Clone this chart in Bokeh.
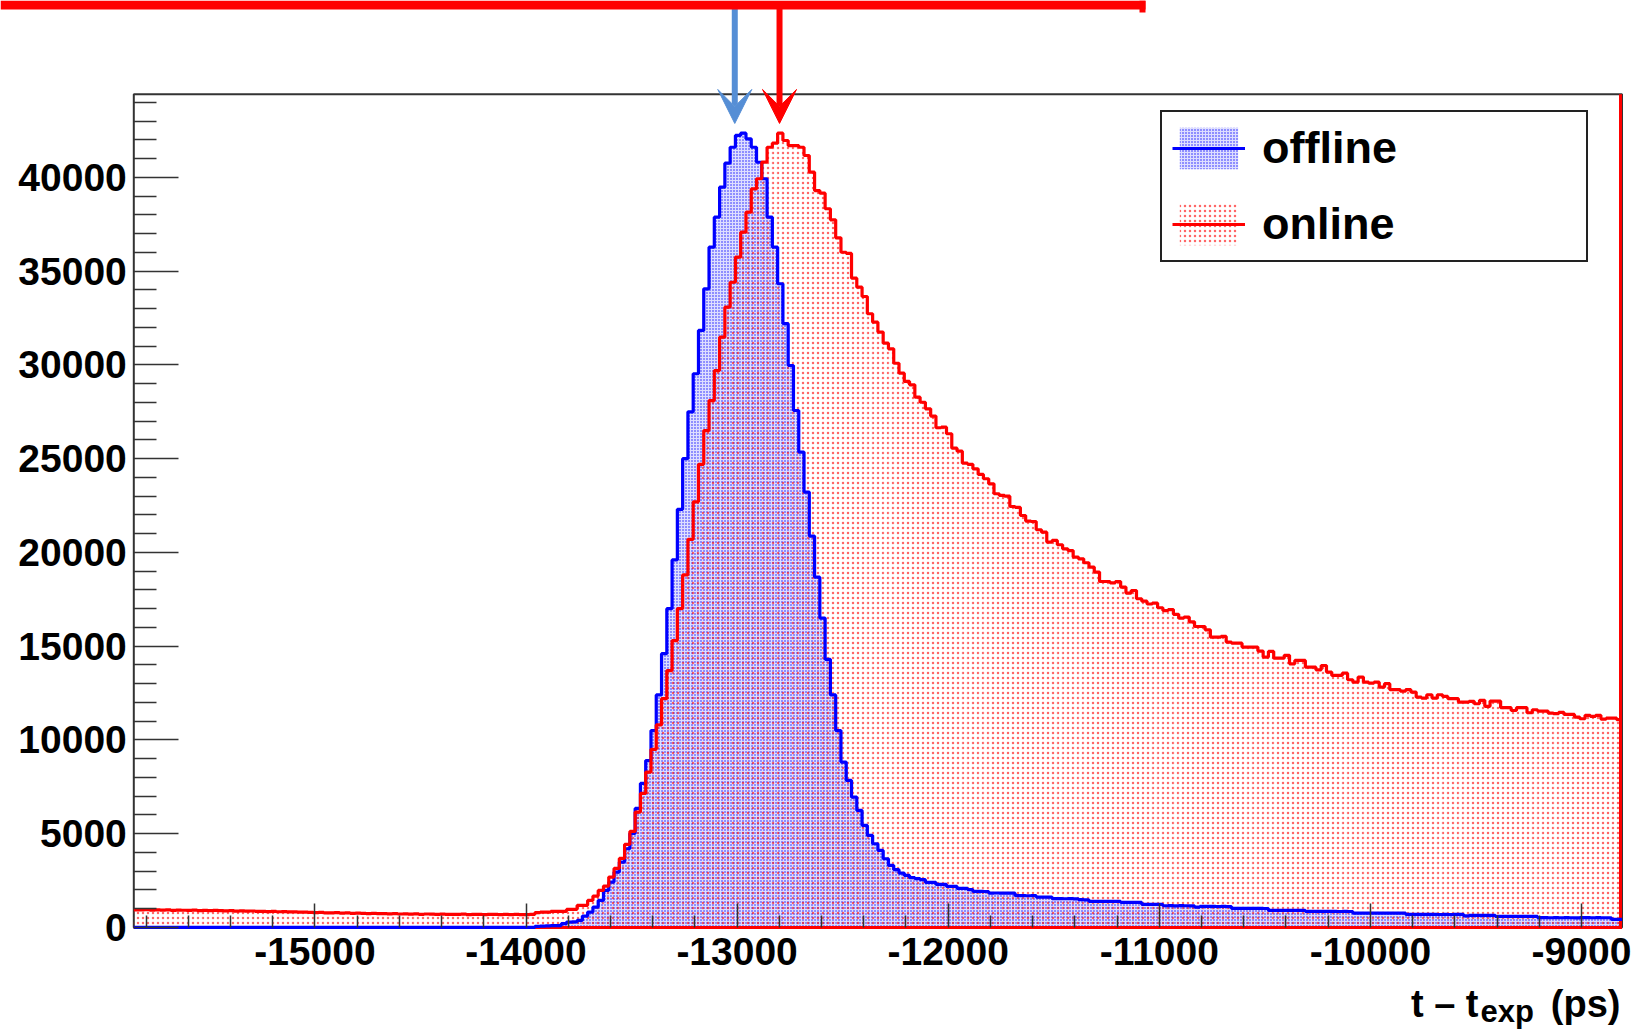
import numpy as np
from bokeh.plotting import figure
from bokeh.models import (Range1d, FixedTicker, ColumnDataSource, Legend, LegendItem,
                          Arrow, VeeHead, BoxAnnotation, Label)
from bokeh.embed import file_html
from bokeh.resources import INLINE

# ----------------------------------------------------------------- data
X_START = -15858          # left edge of first bin (ps)
BIN_WIDTH = 25            # ps

# "online" histogram, counts per 25 ps bin
online = [
    940, 930, 945, 925, 935, 920, 930, 910, 925, 915, 905, 920, 900, 910, 895, 905, 890,
    880, 895, 870, 880, 865, 875, 850, 860, 845, 850, 835, 840, 825, 830, 815, 820, 800,
    790, 800, 780, 770, 785, 760, 770, 750, 760, 745, 735, 750, 730, 740, 720, 735, 715,
    725, 710, 720, 700, 715, 705, 690, 710, 695, 700, 690, 705, 685, 700, 690, 680, 695,
    690, 680, 695, 685, 690, 680, 685, 690,
    784, 810, 817, 853, 850, 860, 960, 965, 1173, 1180, 1440, 1671, 1973, 2204, 2684,
    3147, 3680, 4427, 5120, 6150, 7147, 8284,
    9500, 10800, 12200, 13700, 15300, 17000, 18800, 20700, 22700, 24700, 26500, 28100,
    29700, 31480, 33080, 34410, 35750, 37080, 38150, 39390, 39930, 40820, 41610, 41830,
    42360, 41970, 41700, 41700, 41610,
    41170, 40280, 39300, 39160, 38330, 37740, 36780, 36010, 35950, 34630,
    34150, 33650, 32730, 32280, 31750, 31160, 30860, 30090, 29560, 29120,
    28940, 28280, 28010, 27660, 27270, 26650, 26680, 26330, 25560, 25400,
    24760, 24700, 24460, 24160, 23930, 23660, 23130, 23040, 23000, 22450,
    22400, 21970, 21670, 21650, 21210, 21080, 20550, 20640, 20410, 20190,
    20100, 19750, 19660, 19450, 19220, 18950, 18450, 18450, 18380, 18450,
    18150, 17830, 17970, 17530,
    17400, 17250, 17300, 17050, 16900, 16950, 16700, 16500, 16550, 16300,
    16050, 16050, 15870, 15480, 15480, 15520, 15220, 15160, 15160, 14950,
    14950, 14950, 14740, 14420, 14720, 14360, 14360, 14510, 14060, 14240,
    14240, 13880, 13880, 13740, 13970, 13620, 13440, 13440, 13560, 13210,
    13080, 13350, 13080, 13030, 13080, 12820, 13000, 12680, 12680, 12600,
    12680, 12550, 12280, 12230, 12410, 12230, 12410, 12320, 12200, 12200,
    12020, 12020, 12060, 11930, 12110, 11790, 12070, 12070, 11720, 11720,
    11570, 11720, 11720, 11450, 11610, 11540, 11540, 11430, 11400, 11470,
    11360, 11360, 11220, 11130, 11310, 11260, 11310, 11110, 11160, 11160,
    11080,
]

# "offline" histogram, counts per 25 ps bin
offline = [
    0, 0, 0, 0, 0, 0, 0, 0, 0, 0, 0, 0, 0, 0, 0, 0, 0, 0, 0,
    0, 0, 0, 0, 0, 0, 0, 0, 0, 0, 0, 0, 0, 0, 0, 0, 0, 0, 0,
    0, 0, 0, 0, 0, 0, 0, 0, 0, 0, 0, 0, 0, 0, 0, 0, 0, 0, 0,
    0, 0, 0, 0, 0, 0, 0, 0, 0, 0, 0, 0, 0, 0, 0, 0, 0, 0, 0,
    60, 70, 80, 90, 100, 200, 284, 290, 373, 604, 817, 1084, 1440, 1973, 2418, 2951,
    3484, 4195, 5013, 6347, 7680, 8900,
    10500, 12400, 14600, 17000, 19600, 22300, 25000, 27500,
    29530, 31840, 34060, 36280, 37880, 39480, 40760, 41610, 42240, 42360,
    42060, 41610, 40810, 39930, 37880, 36280, 34330, 32200, 29970, 27570,
    25350, 23220, 20870, 18680, 16500, 14300, 12400, 10500, 8816, 7840,
    6950, 6240, 5440, 4907, 4462, 4107,
    3662, 3307, 3077, 2896, 2773, 2650, 2600, 2544, 2400, 2400, 2293, 2293, 2187, 2187,
    2080, 2080, 2010,
    1920, 1925, 1915,
    1830, 1835, 1828, 1832, 1826,
    1690, 1695, 1688, 1692,
    1616, 1612, 1618,
    1530, 1534, 1528, 1532, 1526,
    1477, 1473,
    1387, 1390, 1385, 1388, 1384, 1386,
    1333, 1336, 1330, 1332,
    1227, 1230, 1225, 1228,
    1156, 1160, 1152, 1158, 1154, 1150,
    1085,
    1120, 1118, 1122, 1116, 1119, 1115,
    1013, 1016, 1010, 1014, 1011, 1015, 1009,
    907, 910, 905, 908, 904, 909, 906,
    853, 856, 850, 854, 851, 855, 849, 852, 848,
    763, 766, 760, 764, 761, 765, 759, 762, 758, 763,
    693, 696, 690, 694, 691, 695, 689, 692, 688, 693, 690,
    620,
    640, 643, 638, 641, 637,
    587, 590, 585, 588, 584, 589, 586, 583,
    517, 520, 515, 518, 514, 519, 516, 513, 517, 521, 515, 518, 514, 516,
    427, 430,
]

x_ticks = [-15000, -14000, -13000, -12000, -11000, -10000, -9000]
x_tick_labels = ["-15000", "-14000", "-13000", "-12000", "-11000", "-10000", "-9000"]
x_minor_ticks = [t for t in range(-15800, -8800, 200) if t % 1000 != 0]

y_ticks = [0, 5000, 10000, 15000, 20000, 25000, 30000, 35000, 40000]
y_tick_labels = ["0", "5000", "10000", "15000", "20000", "25000", "30000", "35000", "40000"]
y_minor_ticks = [t for t in range(1000, 45000, 1000) if t % 5000 != 0]

series_names = ["offline", "online"]
peak_marker_x = [-13011, -12799]    # arrow positions (ps)
peak_marker_tip = 42880             # counts at arrow tip

# -------------------------------------------------------------- layout
W, H = 1633, 1029
FONT = "Liberation Sans"
Y_FRAME_TOP = 44440                       # counts at the top of the histogram frame
FRAME_L_PX, FRAME_R_PX = 133.3, 1621.5    # histogram frame on the canvas
FRAME_T_PX, FRAME_B_PX = 93.7, 926.9

n = len(online)
left = X_START + BIN_WIDTH * np.arange(n)
right = left + BIN_WIDTH
edges = np.append(left, right[-1])
X_END = float(edges[-1])

PX_PER_PS = (FRAME_R_PX - FRAME_L_PX) / (X_END - X_START)
COUNTS_PER_PX = Y_FRAME_TOP / (FRAME_B_PX - FRAME_T_PX)
x_lo = X_START - FRAME_L_PX / PX_PER_PS
x_hi = X_END + (W - FRAME_R_PX) / PX_PER_PS
y_lo = -(H - FRAME_B_PX) * COUNTS_PER_PX
y_hi = FRAME_B_PX * COUNTS_PER_PX


def cx(px):
    return x_lo + px / PX_PER_PS


def cy(py):
    return y_hi - py * COUNTS_PER_PX


src = ColumnDataSource(dict(left=left, right=right, online=online, offline=offline))

p = figure(width=W, height=H,
           x_range=Range1d(x_lo, x_hi), y_range=Range1d(y_lo, y_hi),
           output_backend="svg", toolbar_location=None,
           min_border_left=0, min_border_right=0, min_border_top=0, min_border_bottom=0)
p.outline_line_color = None
p.grid.visible = False
p.background_fill_color = "white"
p.border_fill_color = "white"

# axes (ROOT style: ticks inside the frame), fixed on the frame edges
p.xaxis.fixed_location = 0
p.yaxis.fixed_location = X_START
p.xaxis.ticker = FixedTicker(ticks=x_ticks, minor_ticks=x_minor_ticks)
p.yaxis.ticker = FixedTicker(ticks=y_ticks, minor_ticks=y_minor_ticks)
p.xaxis.major_label_overrides = {t: l for t, l in zip(x_ticks, x_tick_labels)}
p.yaxis.major_label_overrides = {t: l for t, l in zip(y_ticks, y_tick_labels)}
for ax in (p.xaxis[0], p.yaxis[0]):
    ax.axis_line_color = None
    ax.major_tick_out = 0
    ax.minor_tick_out = 0
    ax.major_tick_line_color = "#333333"
    ax.minor_tick_line_color = "#333333"
    ax.major_tick_line_width = 1.5
    ax.minor_tick_line_width = 1.5
    ax.major_label_text_font = FONT
    ax.major_label_text_font_style = "bold"
    ax.major_label_text_font_size = "39px"
    ax.major_label_text_color = "black"
p.xaxis.major_tick_in = 24
p.xaxis.minor_tick_in = 12
p.xaxis.major_label_standoff = 11
p.yaxis.major_tick_in = 45
p.yaxis.minor_tick_in = 23
p.yaxis.major_label_standoff = 7

# frame box
p.add_layout(BoxAnnotation(left=X_START, right=X_END, bottom=0, top=Y_FRAME_TOP,
                           fill_color=None, fill_alpha=0, line_color="#333333",
                           line_alpha=1.0, line_dash="solid", line_width=2,
                           level="underlay"))

# fills (ROOT dotted fill styles)
blue_fill = p.quad(left="left", right="right", bottom=0, top="offline", source=src,
                   fill_color="#0000ff", fill_alpha=0.13, line_color=None,
                   hatch_pattern="dot", hatch_color="#0000ff", hatch_scale=3,
                   hatch_weight=1, hatch_alpha=0.9)
red_fill = p.quad(left="left", right="right", bottom=0, top="online", source=src,
                  fill_color=None, line_color=None, hatch_pattern="dot",
                  hatch_color="#ff0000", hatch_scale=5, hatch_weight=1, hatch_alpha=0.6)

# baseline and right edge of the online histogram area
p.line(x=[X_START, X_END], y=[0, 0], line_color="#ff0000", line_width=3)
p.line(x=[X_END - 1.5 / PX_PER_PS] * 2, y=[0, Y_FRAME_TOP], line_color="#ff0000",
       line_width=3)

# outlines
blue_line = p.step(x=edges, y=list(offline) + [offline[-1]], mode="after",
                   line_color="#0000ff", line_width=3.2)
red_line = p.step(x=edges, y=list(online) + [online[-1]], mode="after",
                  line_color="#ff0000", line_width=3.2)

# legend
legend = Legend(items=[LegendItem(label=series_names[0], renderers=[blue_fill, blue_line]),
                       LegendItem(label=series_names[1], renderers=[red_fill, red_line])],
                location=(1160, H - 262), orientation="vertical",
                border_line_color="#222222", border_line_alpha=1.0, border_line_width=2,
                background_fill_color="white", background_fill_alpha=1.0,
                padding=10, spacing=24, margin=0,
                glyph_width=73, glyph_height=52, label_height=52, label_width=314,
                label_standoff=17, label_text_font=FONT, label_text_font_style="bold",
                label_text_font_size="45px", label_text_color="black")
p.add_layout(legend)

# peak arrows
for ax_x, col in zip(peak_marker_x, ["#558ED5", "#FF0000"]):
    p.add_layout(Arrow(end=VeeHead(size=34, fill_color=col, line_color=col, line_width=1),
                       x_start=ax_x, y_start=cy(6), x_end=ax_x, y_end=peak_marker_tip,
                       line_color=col, line_width=6))

# red slide box edge at top
p.add_layout(BoxAnnotation(left=cx(0), right=cx(1145), top=cy(0), bottom=cy(9),
                           fill_color="#ff0000", fill_alpha=1.0, line_color=None))
p.add_layout(BoxAnnotation(left=cx(1139), right=cx(1145), top=cy(0), bottom=cy(12),
                           fill_color="#ff0000", fill_alpha=1.0, line_color=None))

# x axis title (right aligned, with subscript)
p.add_layout(Label(x=cx(1478), y=cy(1003), text="t – t",
                   text_align="right", text_baseline="alphabetic", text_font=FONT,
                   text_font_style="bold", text_font_size="38px", text_color="black"))
p.add_layout(Label(x=cx(1480), y=cy(1011), text="exp",
                   text_align="left", text_baseline="alphabetic", text_font=FONT,
                   text_font_style="bold", text_font_size="31px", text_color="black"))
p.add_layout(Label(x=cx(1620), y=cy(1003), text="(ps)",
                   text_align="right", text_baseline="alphabetic", text_font=FONT,
                   text_font_style="bold", text_font_size="38px", text_color="black"))

open("out.html", "w").write(file_html(p, INLINE))
